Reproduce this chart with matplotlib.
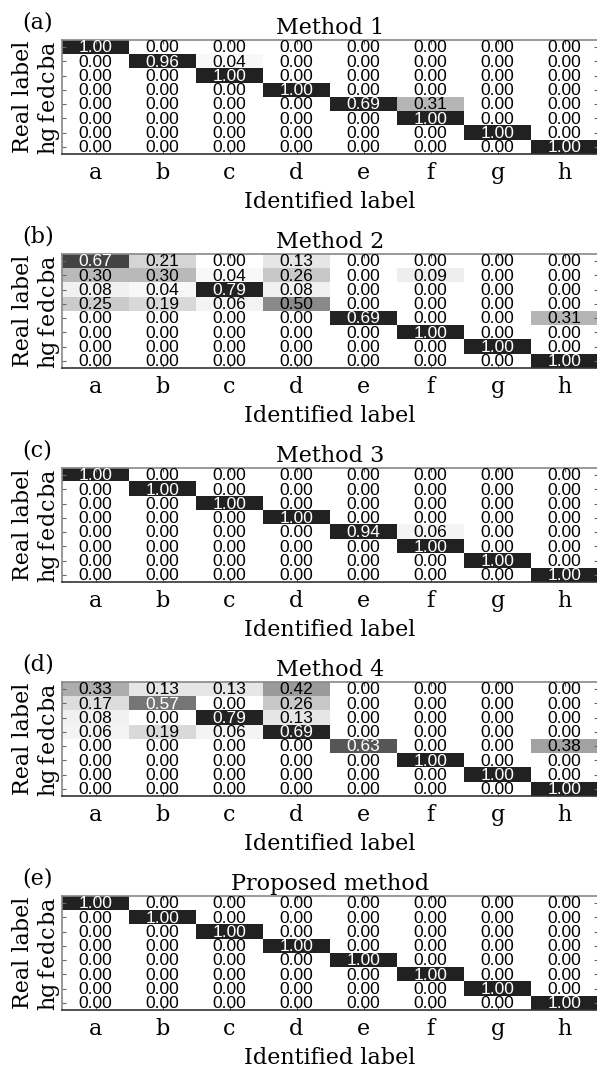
import numpy as np
import matplotlib
matplotlib.use("Agg")
import matplotlib.pyplot as plt
from matplotlib.colors import LinearSegmentedColormap

# labels
classes = ["a", "b", "c", "d", "e", "f", "g", "h"]
titles = ["Method 1", "Method 2", "Method 3", "Method 4", "Proposed method"]
panel_tags = ["(a)", "(b)", "(c)", "(d)", "(e)"]

# confusion matrices (rows = real label, cols = identified label)
method1 = [
    [1.00, 0.00, 0.00, 0.00, 0.00, 0.00, 0.00, 0.00],
    [0.00, 0.96, 0.04, 0.00, 0.00, 0.00, 0.00, 0.00],
    [0.00, 0.00, 1.00, 0.00, 0.00, 0.00, 0.00, 0.00],
    [0.00, 0.00, 0.00, 1.00, 0.00, 0.00, 0.00, 0.00],
    [0.00, 0.00, 0.00, 0.00, 0.69, 0.31, 0.00, 0.00],
    [0.00, 0.00, 0.00, 0.00, 0.00, 1.00, 0.00, 0.00],
    [0.00, 0.00, 0.00, 0.00, 0.00, 0.00, 1.00, 0.00],
    [0.00, 0.00, 0.00, 0.00, 0.00, 0.00, 0.00, 1.00],
]
method2 = [
    [0.67, 0.21, 0.00, 0.13, 0.00, 0.00, 0.00, 0.00],
    [0.30, 0.30, 0.04, 0.26, 0.00, 0.09, 0.00, 0.00],
    [0.08, 0.04, 0.79, 0.08, 0.00, 0.00, 0.00, 0.00],
    [0.25, 0.19, 0.06, 0.50, 0.00, 0.00, 0.00, 0.00],
    [0.00, 0.00, 0.00, 0.00, 0.69, 0.00, 0.00, 0.31],
    [0.00, 0.00, 0.00, 0.00, 0.00, 1.00, 0.00, 0.00],
    [0.00, 0.00, 0.00, 0.00, 0.00, 0.00, 1.00, 0.00],
    [0.00, 0.00, 0.00, 0.00, 0.00, 0.00, 0.00, 1.00],
]
method3 = [
    [1.00, 0.00, 0.00, 0.00, 0.00, 0.00, 0.00, 0.00],
    [0.00, 1.00, 0.00, 0.00, 0.00, 0.00, 0.00, 0.00],
    [0.00, 0.00, 1.00, 0.00, 0.00, 0.00, 0.00, 0.00],
    [0.00, 0.00, 0.00, 1.00, 0.00, 0.00, 0.00, 0.00],
    [0.00, 0.00, 0.00, 0.00, 0.94, 0.06, 0.00, 0.00],
    [0.00, 0.00, 0.00, 0.00, 0.00, 1.00, 0.00, 0.00],
    [0.00, 0.00, 0.00, 0.00, 0.00, 0.00, 1.00, 0.00],
    [0.00, 0.00, 0.00, 0.00, 0.00, 0.00, 0.00, 1.00],
]
method4 = [
    [0.33, 0.13, 0.13, 0.42, 0.00, 0.00, 0.00, 0.00],
    [0.17, 0.57, 0.00, 0.26, 0.00, 0.00, 0.00, 0.00],
    [0.08, 0.00, 0.79, 0.13, 0.00, 0.00, 0.00, 0.00],
    [0.06, 0.19, 0.06, 0.69, 0.00, 0.00, 0.00, 0.00],
    [0.00, 0.00, 0.00, 0.00, 0.63, 0.00, 0.00, 0.38],
    [0.00, 0.00, 0.00, 0.00, 0.00, 1.00, 0.00, 0.00],
    [0.00, 0.00, 0.00, 0.00, 0.00, 0.00, 1.00, 0.00],
    [0.00, 0.00, 0.00, 0.00, 0.00, 0.00, 0.00, 1.00],
]
proposed = [
    [1.00, 0.00, 0.00, 0.00, 0.00, 0.00, 0.00, 0.00],
    [0.00, 1.00, 0.00, 0.00, 0.00, 0.00, 0.00, 0.00],
    [0.00, 0.00, 1.00, 0.00, 0.00, 0.00, 0.00, 0.00],
    [0.00, 0.00, 0.00, 1.00, 0.00, 0.00, 0.00, 0.00],
    [0.00, 0.00, 0.00, 0.00, 1.00, 0.00, 0.00, 0.00],
    [0.00, 0.00, 0.00, 0.00, 0.00, 1.00, 0.00, 0.00],
    [0.00, 0.00, 0.00, 0.00, 0.00, 0.00, 1.00, 0.00],
    [0.00, 0.00, 0.00, 0.00, 0.00, 0.00, 0.00, 1.00],
]
matrices = [method1, method2, method3, method4, proposed]

plt.rcParams["font.family"] = "DejaVu Serif"

# grey map, steep near 0.7 like the original
nodes = [(0.0, 1.0), (0.1, 0.93), (0.25, 0.80), (0.33, 0.68), (0.5, 0.54),
         (0.57, 0.46), (0.63, 0.34), (0.67, 0.27), (0.69, 0.14), (1.0, 0.13)]
cmap = LinearSegmentedColormap.from_list(
    "greyish", [(p, (g, g, g)) for p, g in nodes])

W, H = 597, 1070
fig = plt.figure(figsize=(W / 100, H / 100), dpi=100)

left_px, right_px = 62, 598
top0, step, h_px = 40, 214, 114

for i, (cm, title, tag) in enumerate(zip(matrices, titles, panel_tags)):
    top = top0 + i * step
    ax = fig.add_axes([left_px / W, 1 - (top + h_px) / H,
                       (right_px - left_px) / W, h_px / H])
    data = np.array(cm)
    ax.imshow(data, cmap=cmap, vmin=0, vmax=1, aspect="auto",
              interpolation="nearest")
    for r in range(data.shape[0]):
        for c in range(data.shape[1]):
            v = data[r, c]
            ax.text(c, r + 0.05, f"{v:.2f}", ha="center", va="center",
                    fontsize=12.5, family=["Liberation Sans", "DejaVu Sans"],
                    color="white" if v > 0.55 else "black")

    ax.set_xticks(range(len(classes)))
    ax.set_xticklabels(classes, fontsize=16)
    ax.set_yticks(range(len(classes)))
    ax.set_yticklabels(classes, fontsize=16, rotation=90, va="center")
    ax.tick_params(axis="both", direction="in", length=3, width=0.8,
                   color="#666666", top=True, right=True)
    ax.tick_params(axis="x", pad=6)
    ax.tick_params(axis="y", pad=2)
    ax.set_xlabel("Identified label", fontsize=16, labelpad=5)
    ax.set_ylabel("Real label", fontsize=16, labelpad=2)
    ax.set_title(title, fontsize=16, pad=4)
    for side in ["top", "left", "right"]:
        ax.spines[side].set_color("#888888")
        ax.spines[side].set_linewidth(1.2)
    ax.spines["bottom"].set_color("#333333")
    ax.spines["bottom"].set_linewidth(1.2)

    fig.text(22 / W, 1 - (top - 12) / H, tag, fontsize=16,
             ha="left", va="baseline")

fig.savefig("out.png", dpi=100)
